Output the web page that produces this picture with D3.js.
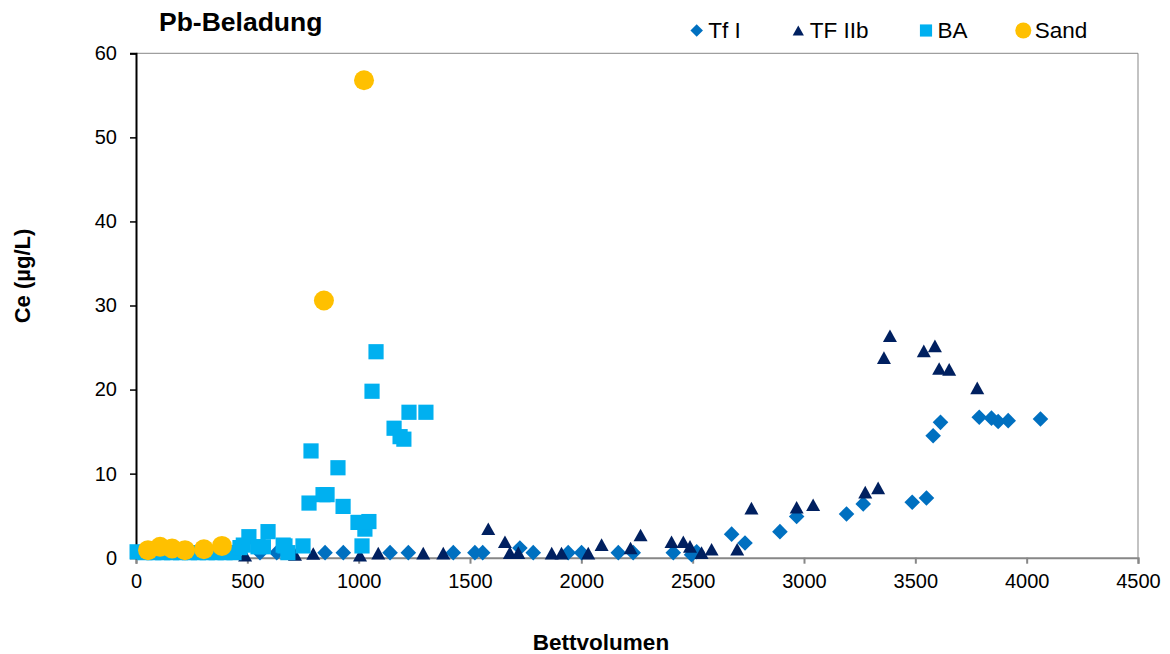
<!DOCTYPE html>
<html>
<head>
<meta charset="utf-8">
<script src="https://cdn.jsdelivr.net/npm/d3@7"></script>
<style>
  body { margin: 0; background: #fff; }
  text { font-family: "Liberation Sans", Arial, sans-serif; fill: #000; }
</style>
</head>
<body>
<svg id="chart" width="1170" height="654"></svg>
<script>
// ---- data ----
const xTicks = [0, 500, 1000, 1500, 2000, 2500, 3000, 3500, 4000, 4500];
const yTicks = [0, 10, 20, 30, 40, 50, 60];

const tf1X = [557, 632, 849, 931, 1141, 1223, 1425, 1522, 1557, 1724, 1784, 1941, 2001, 2166, 2233, 2413, 2495, 2518, 2675, 2735, 2892, 2967, 3191, 3266, 3486, 3550, 3580, 3613, 3787, 3842, 3872, 3917, 4062];
const tf1Y = [0.6, 0.6, 0.6, 0.6, 0.6, 0.6, 0.6, 0.6, 0.6, 1.15, 0.6, 0.6, 0.6, 0.6, 0.6, 0.6, 0.35, 0.7, 2.8, 1.75, 3.1, 4.9, 5.2, 6.4, 6.6, 7.1, 14.5, 16.1, 16.7, 16.6, 16.2, 16.3, 16.5];

const tf2X = [490, 714, 796, 1006, 1088, 1290, 1380, 1582, 1657, 1679, 1717, 1867, 1911, 2031, 2091, 2221, 2266, 2405, 2458, 2488, 2540, 2585, 2700, 2764, 2967, 3041, 3275, 3333, 3359, 3386, 3538, 3588, 3607, 3652, 3778];
const tf2Y = [0.3, 0.4, 0.5, 0.3, 0.55, 0.55, 0.55, 3.45, 1.9, 0.6, 0.6, 0.55, 0.55, 0.55, 1.55, 1.15, 2.7, 1.9, 1.9, 1.35, 0.6, 1.0, 1.0, 5.9, 6.0, 6.3, 7.8, 8.3, 23.8, 26.4, 24.6, 25.2, 22.5, 22.4, 20.2];

const baX = [5, 40, 80, 120, 160, 200, 240, 280, 320, 360, 400, 440, 467, 482, 507, 548, 572, 593, 661, 669, 682, 750, 777, 786, 840, 858, 907, 930, 997, 1015, 1028, 1046, 1060, 1078, 1159, 1186, 1203, 1226, 1302];
const baY = [0.7, 0.6, 0.6, 0.6, 0.6, 0.6, 0.6, 0.6, 0.6, 0.6, 0.6, 0.6, 1.2, 1.5, 2.5, 1.3, 1.3, 3.1, 1.5, 1.4, 0.6, 1.4, 6.5, 12.7, 7.5, 7.5, 10.7, 6.1, 4.2, 1.4, 3.4, 4.3, 19.8, 24.5, 15.4, 14.4, 14.1, 17.3, 17.3];

const sandX = [54, 108, 162, 220, 305, 386, 844, 1024];
const sandY = [0.9, 1.3, 1.1, 0.9, 1.0, 1.4, 30.6, 56.8];

const seriesNames = ["Tf I", "TF IIb", "BA", "Sand"];
const seriesColors = ["#0070C0", "#002060", "#00B0F0", "#FFC000"];
const seriesShapes = ["diamond", "triangle", "square", "circle"];

// ---- layout ----
const svg = d3.select("#chart");
const L = 136, R = 1138, T = 53.3, B = 557.7;
const x = d3.scaleLinear().domain([0, 4500]).range([L, R]);
const y = d3.scaleLinear().domain([0, 60]).range([B, T]);
const gray = "#878787";

// plot area border (top and right)
svg.append("line").attr("x1", L).attr("x2", R).attr("y1", T).attr("y2", T).attr("stroke", gray).attr("stroke-width", 1);
svg.append("line").attr("x1", R).attr("x2", R).attr("y1", T).attr("y2", B).attr("stroke", gray).attr("stroke-width", 1);

// x axis
const xAxis = d3.axisBottom(x).tickValues(xTicks).tickSize(6).tickPadding(10).tickFormat(d3.format("d"));
const gx = svg.append("g").attr("transform", `translate(0,${B})`).call(xAxis);
gx.select(".domain").attr("stroke", gray).attr("stroke-width", 2);
gx.selectAll(".tick line").attr("stroke", gray).attr("stroke-width", 2);
gx.selectAll(".tick text").style("font-size", "20px").attr("fill", "#000");

// y axis
const yAxis = d3.axisLeft(y).tickValues(yTicks).tickSize(6).tickPadding(13).tickFormat(d3.format("d"));
const gy = svg.append("g").attr("transform", `translate(${L},0)`).call(yAxis);
gy.select(".domain").attr("stroke", "#000").attr("stroke-width", 2);
gy.selectAll(".tick line").attr("stroke", "#000").attr("stroke-width", 1.5);
gy.selectAll(".tick text").style("font-size", "20px").attr("fill", "#000");

// markers
function shapePath(shape, s) {
  if (shape === "diamond") { const h = 7.8 * s; return `M0,${-h}L${h},0L0,${h}L${-h},0Z`; }
  if (shape === "triangle") { const w = 7 * s, hh = 6.3 * s; return `M0,${-hh}L${w},${hh}L${-w},${hh}Z`; }
  if (shape === "square") { const h = 7.6 * s; return `M${-h},${-h}H${h}V${h}H${-h}Z`; }
  const r = 10 * s;
  return `M${r},0A${r},${r},0,1,1,${-r},0A${r},${r},0,1,1,${r},0Z`;
}

const seriesData = [
  tf1X.map((v, i) => [v, tf1Y[i]]),
  tf2X.map((v, i) => [v, tf2Y[i]]),
  baX.map((v, i) => [v, baY[i]]),
  sandX.map((v, i) => [v, sandY[i]])
];

const plot = svg.append("g");
seriesData.forEach((data, si) => {
  plot.append("g").selectAll("path").data(data).join("path")
    .attr("d", shapePath(seriesShapes[si], 1))
    .attr("transform", d => `translate(${x(d[0])},${y(d[1])})`)
    .attr("fill", seriesColors[si]);
});

// title
svg.append("text").attr("x", 159).attr("y", 31).style("font-size", "26.5px").style("font-weight", "bold").text("Pb-Beladung");

// axis titles
svg.append("text").attr("x", 601).attr("y", 650).attr("text-anchor", "middle")
  .style("font-size", "22.5px").style("font-weight", "bold").text("Bettvolumen");
svg.append("text").attr("transform", "translate(30,276) rotate(-90)").attr("text-anchor", "middle")
  .style("font-size", "22px").style("font-weight", "bold").text("Ce (µg/L)");

// legend
const legX = [696.7, 798.3, 926, 1023.3];
const leg = svg.append("g");
seriesNames.forEach((name, i) => {
  leg.append("path").attr("d", shapePath(seriesShapes[i], 0.8))
    .attr("transform", `translate(${legX[i]},30.5)`).attr("fill", seriesColors[i]);
  leg.append("text").attr("x", legX[i] + 11.5).attr("y", 38.3).style("font-size", "22.5px").text(name);
});
</script>
</body>
</html>
